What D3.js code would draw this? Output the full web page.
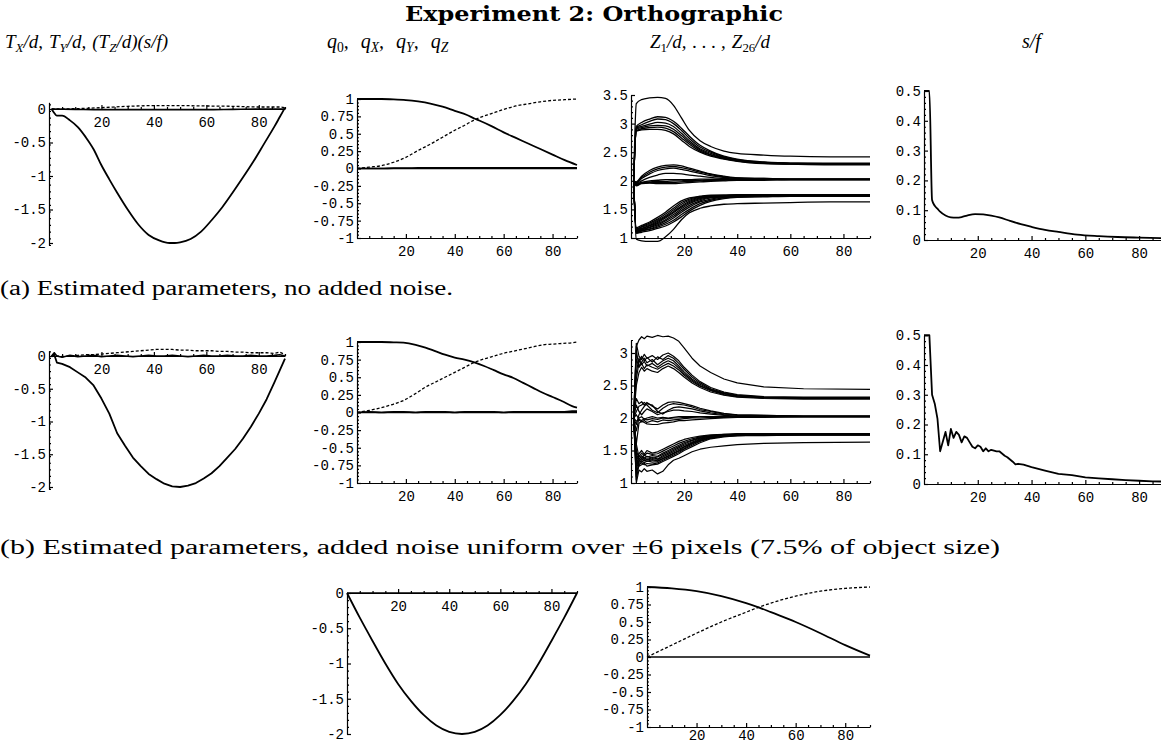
<!DOCTYPE html>
<html>
<head>
<meta charset="utf-8">
<script src="https://cdn.jsdelivr.net/npm/d3@7"></script>
<style>
  body { margin: 0; background: #fff; }
  .ttl { font-family: "DejaVu Serif", serif; font-weight: bold; }
  .hdr { font-family: "Liberation Serif", serif; font-style: italic; }
  .cap { font-family: "Liberation Serif", serif; }
</style>
</head>
<body>
<svg id="fig" width="1161" height="747"></svg>
<script>
// ---------- data ----------

// row (a): translation, no noise
const tFramesA = [1,2,3,5,8,11,14,17,20,23,26,30,34,38,42,46,48,50,54,58,62,66,70,74,78,82,86,88,90];
const txA = [0,-0.06,-0.1,-0.1,-0.17,-0.27,-0.42,-0.6,-0.84,-1.05,-1.25,-1.5,-1.72,-1.88,-1.96,-2.0,-2.0,-1.99,-1.94,-1.83,-1.66,-1.47,-1.25,-1.02,-0.78,-0.52,-0.26,-0.12,0.02];
const tyFramesA = [1,10,20,30,40,50,60,70,80,88,90];
const tyA = [0,0.005,0.02,0.04,0.05,0.05,0.045,0.04,0.03,0.03,0.02];
const tzA = [0,-0.005,-0.01,-0.01,-0.01,-0.01,-0.01,-0.005,0,0,0];

// row (a): quaternion
const qFramesA = [0,5,10,15,20,25,30,35,40,45,48,50,55,60,65,70,75,80,85,90];
const q0A = [1,1,1,0.995,0.985,0.965,0.935,0.89,0.83,0.77,0.72,0.69,0.61,0.52,0.44,0.36,0.28,0.2,0.12,0.05];
const qYA = [0,0.02,0.04,0.09,0.16,0.26,0.35,0.45,0.55,0.64,0.7,0.73,0.79,0.85,0.9,0.93,0.96,0.98,0.99,1.0];
const qXA = [0,0,0,0.005,0.005,0.01,0.01,0.01,0.01,0.01,0.01,0.01,0.01,0.01,0.01,0.01,0.01,0.01,0.01,0.01];

// row (a): depths Z1..Z26
const zFramesA = [1,2,4,7,10,13,16,19,22,26,30,35,40,50,60,75,90];
const zA = [
  [2.0,3.35,3.42,3.45,3.46,3.44,3.32,3.1,2.88,2.7,2.6,2.52,2.48,2.45,2.43,2.42,2.42],
  [2.0,2.95,3.02,3.08,3.12,3.11,3.04,2.92,2.78,2.62,2.52,2.43,2.38,2.33,2.31,2.31,2.31],
  [2.0,2.93,2.98,3.04,3.08,3.07,3.0,2.88,2.74,2.59,2.5,2.42,2.37,2.32,2.31,2.3,2.3],
  [2.0,2.92,2.95,2.99,3.02,3.01,2.95,2.83,2.7,2.56,2.48,2.41,2.36,2.32,2.3,2.3,2.3],
  [2.0,2.9,2.93,2.96,2.97,2.96,2.9,2.79,2.67,2.54,2.46,2.4,2.35,2.31,2.3,2.29,2.29],
  [2.0,2.88,2.91,2.93,2.94,2.92,2.86,2.75,2.64,2.52,2.45,2.39,2.35,2.31,2.29,2.29,2.29],
  [2.0,2.87,2.89,2.9,2.9,2.88,2.82,2.71,2.6,2.5,2.43,2.38,2.34,2.3,2.29,2.28,2.28],
  [2.0,1.98,2.08,2.18,2.24,2.27,2.28,2.26,2.22,2.17,2.12,2.08,2.05,2.04,2.03,2.03,2.03],
  [2.0,1.97,2.06,2.15,2.21,2.24,2.25,2.23,2.2,2.15,2.11,2.07,2.05,2.04,2.03,2.03,2.03],
  [2.0,1.96,2.04,2.12,2.18,2.21,2.22,2.2,2.17,2.13,2.09,2.06,2.04,2.03,2.03,2.03,2.03],
  [2.0,1.95,2.0,2.06,2.1,2.13,2.13,2.12,2.1,2.08,2.06,2.04,2.03,2.03,2.02,2.02,2.02],
  [2.0,1.93,1.97,2.0,2.01,2.02,2.02,2.02,2.02,2.03,2.03,2.03,2.03,2.03,2.03,2.03,2.03],
  [2.0,1.94,1.97,1.98,1.99,1.99,2.0,2.0,2.01,2.01,2.02,2.02,2.02,2.02,2.02,2.02,2.02],
  [2.0,1.92,1.96,1.97,1.97,1.97,1.97,1.98,1.99,2.0,2.01,2.01,2.02,2.02,2.02,2.02,2.02],
  [2.0,1.91,1.95,1.96,1.95,1.95,1.95,1.96,1.97,1.98,1.99,2.0,2.01,2.01,2.02,2.02,2.02],
  [2.0,1.18,1.22,1.28,1.36,1.45,1.56,1.65,1.7,1.73,1.75,1.75,1.76,1.76,1.76,1.76,1.76],
  [2.0,1.16,1.2,1.26,1.33,1.42,1.52,1.62,1.68,1.72,1.74,1.75,1.75,1.75,1.75,1.75,1.75],
  [2.0,1.15,1.19,1.24,1.31,1.39,1.49,1.59,1.66,1.71,1.73,1.74,1.75,1.75,1.75,1.75,1.75],
  [2.0,1.14,1.17,1.22,1.29,1.37,1.46,1.56,1.64,1.7,1.73,1.74,1.74,1.75,1.75,1.75,1.75],
  [2.0,1.13,1.16,1.21,1.27,1.35,1.44,1.54,1.62,1.69,1.72,1.74,1.74,1.74,1.74,1.74,1.74],
  [2.0,1.12,1.15,1.19,1.25,1.32,1.41,1.51,1.6,1.67,1.71,1.73,1.74,1.74,1.74,1.74,1.74],
  [2.0,1.11,1.14,1.18,1.23,1.3,1.38,1.48,1.57,1.65,1.7,1.72,1.73,1.74,1.74,1.74,1.74],
  [2.0,1.1,1.13,1.16,1.21,1.27,1.35,1.45,1.54,1.63,1.68,1.71,1.72,1.73,1.73,1.73,1.73],
  [2.0,1.09,1.12,1.15,1.19,1.24,1.31,1.41,1.5,1.6,1.66,1.7,1.72,1.73,1.73,1.73,1.73],
  [2.0,1.08,1.1,1.13,1.17,1.21,1.28,1.37,1.47,1.57,1.64,1.69,1.71,1.72,1.73,1.73,1.73],
  [2.0,0.98,0.95,0.94,0.94,1.02,1.15,1.32,1.44,1.52,1.56,1.59,1.6,1.61,1.62,1.63,1.63]
];

// row (a): scale s/f
const sfFramesA = [0,2,3,4,5,6,8,10,12,14,16,19,22,25,28,32,36,40,45,50,57,65,72,80,90];
const sfA = [0.5,0.5,0.134,0.115,0.105,0.095,0.082,0.076,0.075,0.077,0.082,0.087,0.086,0.082,0.076,0.064,0.053,0.044,0.034,0.027,0.018,0.013,0.01,0.008,0.006];

// row (b): translation, with noise
const tFramesB = [1,2,3,5,8,11,14,17,20,23,26,29,32,35,38,41,44,47,50,53,56,59,62,65,68,71,74,77,80,83,86,88,90];
const txB = [0,0.02,-0.1,-0.12,-0.17,-0.25,-0.33,-0.45,-0.65,-0.88,-1.18,-1.37,-1.55,-1.68,-1.8,-1.88,-1.95,-1.99,-2.0,-1.98,-1.94,-1.87,-1.79,-1.68,-1.55,-1.42,-1.26,-1.08,-0.88,-0.66,-0.4,-0.22,-0.04];
const tyB = [0,0.02,0,-0.01,0,0.01,0.02,0.02,0.03,0.04,0.05,0.06,0.07,0.08,0.09,0.1,0.1,0.1,0.09,0.09,0.08,0.08,0.08,0.07,0.07,0.06,0.06,0.05,0.05,0.05,0.04,0.06,0.02];
const tzB = [0,0.05,0,-0.02,0.01,-0.01,0,0.01,-0.01,0,0.01,0,-0.01,0,0.01,0,0,0.01,0,-0.01,0,0.01,0,0,0.01,0,0,0.01,0,0,0.01,0.02,0];

// row (b): quaternion
const qFramesB = [0,5,10,15,19,24,28,32,36,40,44,48,52,56,60,64,68,72,76,80,84,88,90];
const q0B = [1,1,1,0.995,0.99,0.96,0.92,0.87,0.82,0.78,0.75,0.71,0.66,0.6,0.54,0.49,0.42,0.35,0.28,0.22,0.16,0.09,0.07];
const qYB = [0,0.03,0.07,0.12,0.17,0.27,0.36,0.43,0.5,0.57,0.64,0.71,0.76,0.8,0.84,0.87,0.9,0.93,0.96,0.97,0.98,0.99,1.0];
const qXB = [0,0.01,0,0.01,0.01,0,0.01,0.01,0.01,0,0.01,0.01,0.01,0.01,0,0.01,0.01,0.01,0.01,0.01,0.01,0.02,0.02];

// row (b): depths Z1..Z26
const zFramesB = [1,2,3,4,5,6,8,10,12,14,16,18,20,23,26,30,35,40,50,65,90];
const zB = [
  [2.0,3.1,3.2,3.25,3.22,3.26,3.24,3.27,3.25,3.26,3.23,3.18,3.08,2.92,2.8,2.7,2.6,2.54,2.48,2.45,2.44],
  [2.0,3.15,2.95,2.9,2.98,2.92,2.96,2.9,2.97,3.0,2.95,2.88,2.78,2.66,2.56,2.47,2.4,2.36,2.33,2.32,2.32],
  [2.0,2.6,2.85,2.95,2.88,2.93,2.86,2.94,2.9,2.96,2.92,2.84,2.75,2.63,2.54,2.45,2.39,2.35,2.32,2.31,2.31],
  [2.0,2.9,2.8,2.86,2.92,2.85,2.9,2.82,2.88,2.92,2.88,2.8,2.71,2.6,2.52,2.44,2.38,2.34,2.32,2.31,2.31],
  [2.0,2.7,2.92,2.82,2.87,2.8,2.84,2.78,2.84,2.88,2.84,2.77,2.68,2.58,2.5,2.43,2.37,2.34,2.31,2.3,2.3],
  [2.0,3.05,2.78,2.84,2.76,2.82,2.78,2.75,2.8,2.84,2.8,2.74,2.66,2.56,2.49,2.42,2.36,2.33,2.31,2.3,2.3],
  [2.0,2.5,2.7,2.78,2.72,2.76,2.72,2.7,2.76,2.8,2.76,2.7,2.63,2.54,2.47,2.4,2.35,2.32,2.3,2.29,2.29],
  [2.0,2.3,2.22,2.25,2.2,2.24,2.18,2.14,2.2,2.24,2.25,2.24,2.22,2.19,2.15,2.11,2.07,2.05,2.04,2.03,2.03],
  [2.0,2.1,2.18,2.2,2.24,2.2,2.12,2.08,2.15,2.2,2.22,2.21,2.2,2.17,2.13,2.1,2.06,2.05,2.04,2.03,2.03],
  [2.0,1.9,2.05,2.12,2.18,2.22,2.2,2.1,2.06,2.12,2.16,2.17,2.16,2.14,2.11,2.08,2.05,2.04,2.03,2.03,2.03],
  [2.0,2.2,2.1,2.05,2.1,2.14,2.1,2.05,2.08,2.1,2.12,2.12,2.11,2.1,2.08,2.06,2.04,2.03,2.03,2.02,2.02],
  [2.0,1.8,2.0,2.02,1.98,2.0,2.02,2.0,2.01,2.0,2.01,2.02,2.02,2.02,2.02,2.02,2.02,2.02,2.02,2.02,2.02],
  [2.0,2.05,1.98,1.96,1.99,1.97,1.99,1.98,2.0,1.99,2.0,2.0,2.01,2.01,2.02,2.02,2.02,2.02,2.02,2.02,2.02],
  [2.0,1.95,1.97,1.94,1.96,1.93,1.96,1.94,1.97,1.96,1.97,1.98,1.99,2.0,2.0,2.01,2.01,2.02,2.02,2.02,2.02],
  [2.0,1.6,1.92,1.95,1.93,1.91,1.9,1.9,1.92,1.93,1.94,1.96,1.96,1.97,1.98,1.99,2.0,2.01,2.01,2.02,2.02],
  [2.0,1.2,1.45,1.5,1.44,1.5,1.46,1.48,1.52,1.56,1.6,1.64,1.67,1.7,1.72,1.74,1.75,1.76,1.76,1.76,1.76],
  [2.0,1.6,1.4,1.46,1.42,1.46,1.44,1.45,1.49,1.53,1.57,1.61,1.64,1.68,1.71,1.73,1.75,1.75,1.76,1.76,1.76],
  [2.0,1.35,1.42,1.38,1.43,1.4,1.42,1.41,1.46,1.5,1.54,1.58,1.62,1.66,1.7,1.72,1.74,1.75,1.75,1.75,1.75],
  [2.0,1.1,1.36,1.42,1.38,1.41,1.38,1.4,1.44,1.48,1.52,1.56,1.6,1.65,1.69,1.72,1.74,1.75,1.75,1.75,1.75],
  [2.0,1.5,1.38,1.35,1.39,1.36,1.39,1.37,1.42,1.46,1.5,1.54,1.58,1.63,1.68,1.71,1.73,1.74,1.75,1.75,1.75],
  [2.0,1.3,1.33,1.38,1.34,1.37,1.35,1.36,1.4,1.44,1.48,1.52,1.56,1.62,1.67,1.71,1.73,1.74,1.74,1.75,1.75],
  [2.0,1.45,1.35,1.32,1.36,1.33,1.36,1.34,1.38,1.42,1.46,1.5,1.55,1.61,1.66,1.7,1.73,1.74,1.74,1.74,1.74],
  [2.0,1.25,1.3,1.34,1.31,1.34,1.32,1.33,1.37,1.41,1.45,1.49,1.53,1.6,1.65,1.69,1.72,1.73,1.74,1.74,1.74],
  [2.0,1.05,1.28,1.31,1.28,1.3,1.29,1.31,1.35,1.39,1.43,1.47,1.52,1.58,1.64,1.69,1.72,1.73,1.74,1.74,1.74],
  [2.0,1.4,1.26,1.28,1.3,1.26,1.28,1.29,1.33,1.37,1.41,1.45,1.5,1.56,1.62,1.68,1.71,1.73,1.73,1.74,1.74],
  [2.0,1.0,1.2,1.17,1.22,1.18,1.2,1.14,1.18,1.28,1.35,1.38,1.42,1.48,1.52,1.55,1.57,1.59,1.61,1.62,1.63]
];

// row (b): scale s/f
const sfFramesB = [0,2,3,4,5,6,8,9,10,11,12,13,14,15,16,17,18,19,20,21,22,23,24,25,27,28,30,31,33,34,35,37,40,45,50,55,60,65,70,75,80,85,90];
const sfB = [0.5,0.5,0.3,0.27,0.22,0.11,0.175,0.13,0.185,0.155,0.175,0.165,0.14,0.16,0.155,0.14,0.125,0.12,0.13,0.125,0.11,0.12,0.11,0.115,0.11,0.11,0.095,0.09,0.075,0.066,0.068,0.065,0.057,0.045,0.034,0.03,0.022,0.019,0.016,0.013,0.011,0.009,0.008];

// bottom row: true motion
const tFramesC = [0,5,10,15,20,25,30,35,40,45,50,55,60,65,70,75,80,85,90];
const txC = [0,-0.35,-0.68,-1.0,-1.29,-1.53,-1.73,-1.88,-1.97,-2.0,-1.97,-1.88,-1.73,-1.53,-1.29,-1.0,-0.68,-0.35,0];
const zeroC = tFramesC.map(() => 0);
const qFramesC = [0,10,20,30,40,45,50,60,70,80,90];
const q0C = [1,0.98,0.94,0.87,0.77,0.71,0.64,0.5,0.34,0.17,0.02];
const qYC = [0,0.17,0.34,0.5,0.64,0.71,0.77,0.87,0.94,0.98,1.0];
const qZeroC = qFramesC.map(() => 0);

// tick labels
const xTicks = [20, 40, 60, 80];
const tTicks = [0, -0.5, -1, -1.5, -2];
const qTicks = [1, 0.75, 0.5, 0.25, 0, -0.25, -0.5, -0.75, -1];
const zTicksA = [3.5, 3, 2.5, 2, 1.5, 1];
const zTicksB = [3, 2.5, 2, 1.5, 1];
const sfTicks = [0.5, 0.4, 0.3, 0.2, 0.1, 0];

// ---------- drawing ----------
const svg = d3.select("#fig");

function minorTicks(lo, hi, step, majors) {
  const out = [];
  for (let v = lo; v <= hi + 1e-9; v += step) {
    const r = Math.round(v * 1000) / 1000;
    if (!majors.some(m => Math.abs(m - r) < 1e-6)) out.push(r);
  }
  return out;
}

function drawPanel(p) {
  const x = d3.scaleLinear().domain([0, 90]).range(p.xr);
  const y = d3.scaleLinear().domain(p.yd).range(p.yr);
  const g = svg.append("g");

  // y axis, ticks pointing inward
  const ya = y.copy().domain(p.yExt).range(p.yExt.map(y));
  g.append("g").attr("transform", `translate(${x(0)},0)`)
    .call(d3.axisLeft(ya).tickValues(p.yTicks).tickSizeInner(-4).tickSizeOuter(0)
      .tickPadding(3).tickFormat(d => String(d)));
  g.append("g").attr("transform", `translate(${x(0)},0)`)
    .call(d3.axisLeft(ya).tickValues(minorTicks(p.yExt[0], p.yExt[1], p.yMinor, p.yTicks))
      .tickSize(-2).tickFormat(""))
    .select(".domain").remove();

  // x axis
  const xa = x.copy().domain([0, p.xEnd]).range([x(0), x(p.xEnd)]);
  g.append("g").attr("transform", `translate(0,${y(p.xAt)})`)
    .call(d3.axisBottom(xa).tickValues(xTicks).tickSizeInner(-4).tickSizeOuter(0).tickPadding(p.xPad || 8));
  g.append("g").attr("transform", `translate(0,${y(p.xAt)})`)
    .call(d3.axisBottom(xa).tickValues(minorTicks(0, p.xEnd, 5, xTicks.concat([0]))).tickSize(-2).tickFormat(""))
    .select(".domain").remove();

  g.selectAll(".tick text")
    .attr("font-family", "'Liberation Mono', 'Courier New', monospace")
    .attr("font-size", 14)
    .attr("fill", "#000");
  g.selectAll(".domain, .tick line").attr("stroke", "#000").attr("stroke-width", 1.2);

  // data
  p.series.forEach(s => {
    const line = d3.line()
      .x(d => x(d[0])).y(d => y(d[1]))
      .curve(s.linear ? d3.curveLinear : d3.curveMonotoneX);
    g.append("path")
      .datum(d3.zip(s.t, s.v))
      .attr("fill", "none")
      .attr("stroke", "#000")
      .attr("stroke-width", s.w || (s.dash ? 1.3 : 1.8))
      .attr("stroke-dasharray", s.dash ? "3,2" : null)
      .attr("stroke-linejoin", "round")
      .attr("d", line);
  });
}

// column x ranges
const col1 = [49, 285], col2 = [357, 577], col3 = [631, 870], col4 = [924, 1166];

// row (a)
drawPanel({ xr: col1, yd: [0, -2], yr: [109, 243], yExt: [-2.03, 0.1], yTicks: tTicks, yMinor: 0.1,
  xAt: 0, xEnd: 90,
  series: [
    { t: tFramesA, v: txA },
    { t: tyFramesA, v: tyA, dash: true },
    { t: tyFramesA, v: tzA, w: 1.6 }
  ] });
drawPanel({ xr: col2, yd: [1, -1], yr: [99, 238], yExt: [-1, 1], yTicks: qTicks, yMinor: 0.05,
  xAt: -1, xEnd: 90,
  series: [
    { t: qFramesA, v: q0A },
    { t: qFramesA, v: qYA, dash: true },
    { t: qFramesA, v: qXA, w: 1.6 },
    { t: qFramesA, v: qFramesA.map(() => 0), w: 1.4 }
  ] });
drawPanel({ xr: col3, yd: [3.5, 1], yr: [95, 238], yExt: [1, 3.5], yTicks: zTicksA, yMinor: 0.1,
  xAt: 1, xEnd: 90,
  series: zA.map(v => ({ t: zFramesA, v: v, w: 1.3 })) });
drawPanel({ xr: col4, yd: [0.5, 0], yr: [91, 240], yExt: [0, 0.5], yTicks: sfTicks, yMinor: 0.02,
  xAt: 0, xEnd: 90,
  series: [{ t: sfFramesA, v: sfA }] });

// row (b)
drawPanel({ xr: col1, yd: [0, -2], yr: [356, 487], yExt: [-2.03, 0.08], yTicks: tTicks, yMinor: 0.1,
  xAt: 0, xEnd: 90,
  series: [
    { t: tFramesB, v: txB, linear: true },
    { t: tFramesB, v: tyB, dash: true, linear: true },
    { t: tFramesB, v: tzB, w: 1.6, linear: true }
  ] });
drawPanel({ xr: col2, yd: [1, -1], yr: [342, 483], yExt: [-1, 1], yTicks: qTicks, yMinor: 0.05,
  xAt: -1, xEnd: 90,
  series: [
    { t: qFramesB, v: q0B },
    { t: qFramesB, v: qYB, dash: true },
    { t: qFramesB, v: qXB, w: 1.6 },
    { t: qFramesB, v: qFramesB.map(() => 0), w: 1.4 }
  ] });
drawPanel({ xr: col3, yd: [3, 1], yr: [353, 483], yExt: [1, 3.2], yTicks: zTicksB, yMinor: 0.1,
  xAt: 1, xEnd: 90,
  series: zB.map(v => ({ t: zFramesB, v: v, w: 1.2, linear: true })) });
drawPanel({ xr: col4, yd: [0.4, 0], yr: [365, 484], yExt: [0, 0.5], yTicks: sfTicks, yMinor: 0.02,
  xAt: 0, xEnd: 90,
  series: [{ t: sfFramesB, v: sfB, linear: true }] });

// bottom row (true values)
drawPanel({ xr: [347, 577], yd: [0, -2], yr: [593, 734], yExt: [-2, 0], yTicks: tTicks, yMinor: 0.1,
  xAt: 0, xEnd: 90,
  series: [
    { t: tFramesC, v: txC },
    { t: tFramesC, v: zeroC, w: 1.6 }
  ] });
drawPanel({ xr: [647, 870], yd: [1, -1], yr: [587, 727], yExt: [-1, 1], yTicks: qTicks, yMinor: 0.05,
  xAt: -1, xEnd: 90, xPad: 3,
  series: [
    { t: qFramesC, v: q0C },
    { t: qFramesC, v: qYC, dash: true },
    { t: qFramesC, v: qZeroC, w: 1.6 }
  ] });

// ---------- text ----------
svg.append("text").attr("class", "ttl")
  .attr("x", 405).attr("y", 21).attr("font-size", 21)
  .attr("textLength", 378).attr("lengthAdjust", "spacingAndGlyphs")
  .text("Experiment 2: Orthographic");

// math-style header: parts are plain strings, {s, dx} or [subscript, italic]
function header(x, y, parts, size) {
  const t = svg.append("text").attr("class", "hdr")
    .attr("x", x).attr("y", y).attr("font-size", size);
  let shifted = false;
  parts.forEach(pt => {
    if (Array.isArray(pt)) {
      const s = t.append("tspan").text(pt[0])
        .attr("font-size", size * 0.68).attr("font-style", pt[1] ? "italic" : "normal");
      if (!shifted) { s.attr("dy", 4); shifted = true; }
    } else {
      const str = typeof pt === "string" ? pt : pt.s;
      const s = t.append("tspan").text(str);
      if (shifted) { s.attr("dy", -4); shifted = false; }
      if (pt.dx) s.attr("dx", pt.dx);
    }
  });
  return t;
}
header(5, 48, ["T", ["X", true], "/d,", { s: "T", dx: 6 }, ["Y", true], "/d,", { s: "(T", dx: 6 }, ["Z", true], "/d)(s/f)"], 19);
header(327, 48, ["q", ["0", false], ",", { s: "q", dx: 12 }, ["X", true], ",", { s: "q", dx: 12 }, ["Y", true], ",", { s: "q", dx: 12 }, ["Z", true]], 20);
header(650, 48, ["Z", ["1", false], "/d,", { s: ". . . ,", dx: 6 }, { s: "Z", dx: 6 }, ["26", false], "/d"], 19);
header(1022, 48, ["s/f"], 20);

svg.append("text").attr("class", "cap")
  .attr("x", 0).attr("y", 295).attr("font-size", 20)
  .attr("textLength", 453).attr("lengthAdjust", "spacingAndGlyphs")
  .text("(a) Estimated parameters, no added noise.");
svg.append("text").attr("class", "cap")
  .attr("x", 0).attr("y", 554).attr("font-size", 20)
  .attr("textLength", 1000).attr("lengthAdjust", "spacingAndGlyphs")
  .text("(b) Estimated parameters, added noise uniform over \u00b16 pixels (7.5% of object size)");
</script>
</body>
</html>
